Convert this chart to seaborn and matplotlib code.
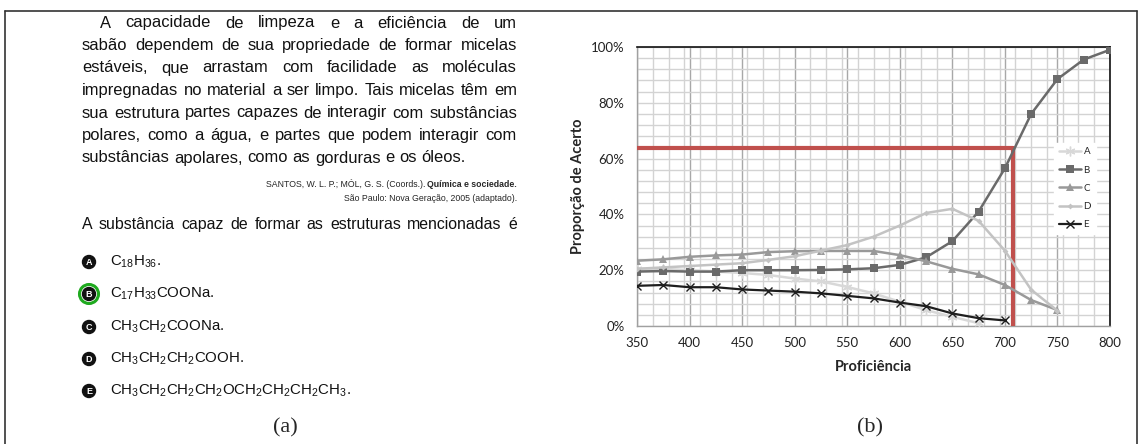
import numpy as np
import pandas as pd
import matplotlib
matplotlib.use("Agg")
import matplotlib.pyplot as plt
import seaborn as sns
from matplotlib.ticker import FixedLocator, MultipleLocator, PercentFormatter
from matplotlib.lines import Line2D
from matplotlib.patches import Circle
from matplotlib.transforms import IdentityTransform

# ---- data (proficiency vs. % of correct answers) ----
prof_A = [350, 375, 400, 425, 450, 475, 500, 525, 550, 575, 600, 625, 650, 675]
acerto_A = [20.5, 20.5, 20, 19.5, 19, 18.3, 17, 16, 14, 11.7, 8.7, 5.7, 3.3, 1]

prof_B = [350, 375, 400, 425, 450, 475, 500, 525, 550, 575, 600, 625, 650, 675,
          700, 725, 750, 775, 800]
acerto_B = [19.5, 19.7, 19.5, 19.5, 20, 20, 20, 20.1, 20.3, 20.7, 21.9, 24.6, 30.4,
            41, 56.5, 76, 88.5, 95.5, 99]

prof_C = [350, 375, 400, 425, 450, 475, 500, 525, 550, 575, 600, 625, 650, 675,
          700, 725, 750]
acerto_C = [23.4, 23.9, 24.8, 25.3, 25.6, 26.5, 26.8, 26.9, 26.9, 26.9, 25.4, 23.2,
            20.5, 18.5, 14.7, 9.3, 5.7]

prof_D = [350, 375, 400, 425, 450, 475, 500, 525, 550, 575, 600, 625, 650, 675,
          700, 725, 750]
acerto_D = [20.5, 21, 21.5, 22, 22.5, 23.7, 25, 27, 29, 32, 36, 40.5, 42, 37.7,
            27, 13, 5.5]

prof_E = [350, 375, 400, 425, 450, 475, 500, 525, 550, 575, 600, 625, 650, 675, 700]
acerto_E = [14.4, 14.7, 13.9, 13.9, 13.1, 12.7, 12.3, 11.7, 10.8, 9.9, 8.4, 7.1,
            4.5, 2.8, 2.0]

# reference lines drawn in red
ref_prof = 708
ref_prop = 63.7

x_ticks = [350, 400, 450, 500, 550, 600, 650, 700, 750, 800]
y_ticks = [0, 20, 40, 60, 80, 100]

# ---- question text ----
paragraph = [
    "A capacidade de limpeza e a eficiência de um",
    "sabão dependem de sua propriedade de formar micelas",
    "estáveis, que arrastam com facilidade as moléculas",
    "impregnadas no material a ser limpo. Tais micelas têm em",
    "sua estrutura partes capazes de interagir com substâncias",
    "polares, como a água, e partes que podem interagir com",
    "substâncias apolares, como as gorduras e os óleos.",
]
citation_plain = ["SANTOS, W. L. P.; MÓL, G. S. (Coords.). ",
                  "São Paulo: Nova Geração, 2005 (adaptado)."]
citation_bold = "Química e sociedade."
question = "A substância capaz de formar as estruturas mencionadas é"
option_letters = ["A", "B", "C", "D", "E"]
option_texts = [
    r"C$_{18}$H$_{36}$.",
    r"C$_{17}$H$_{33}$COONa.",
    r"CH$_{3}$CH$_{2}$COONa.",
    r"CH$_{3}$CH$_{2}$CH$_{2}$COOH.",
    r"CH$_{3}$CH$_{2}$CH$_{2}$CH$_{2}$OCH$_{2}$CH$_{2}$CH$_{2}$CH$_{3}$.",
]
correct_option = "B"

sns.set_style("white")
plt.rcParams["font.family"] = ["Liberation Sans", "DejaVu Sans"]
plt.rcParams["mathtext.fontset"] = "custom"
plt.rcParams["mathtext.rm"] = "Liberation Sans"
plt.rcParams["mathtext.it"] = "Liberation Sans:italic"
plt.rcParams["mathtext.bf"] = "Liberation Sans:bold"

W, H = 1142, 444
fig = plt.figure(figsize=(W / 100, H / 100), dpi=100)
renderer = fig.canvas.get_renderer()


def fpos(x, y):
    return x / W, 1 - y / H


# ---- panel (b): the chart ----
ax = fig.add_axes([637 / W, 1 - 326 / H, (1110 - 637) / W, (326 - 47) / H])

rows = []
for name, xs, ys in [("A", prof_A, acerto_A), ("B", prof_B, acerto_B),
                     ("C", prof_C, acerto_C), ("D", prof_D, acerto_D),
                     ("E", prof_E, acerto_E)]:
    for xv, yv in zip(xs, ys):
        rows.append({"Proficiência": xv, "Proporção": yv, "Alternativa": name})
df = pd.DataFrame(rows)

styles = {
    "A": dict(color="#d8d8d8", marker=(6, 2, 0), markersize=7, lw=1.8, mew=1.0),
    "B": dict(color="#6a6a6a", marker="s", markersize=5.5, lw=1.8, mew=0),
    "C": dict(color="#999999", marker="^", markersize=6, lw=1.8, mew=0),
    "D": dict(color="#c3c3c3", marker="D", markersize=3, lw=1.8, mew=0),
    "E": dict(color="#1e1e1e", marker="x", markersize=6, lw=1.6, mew=1.0),
}

ax.plot([350, ref_prof], [ref_prop, ref_prop], color="#c0504d", lw=3, zorder=3)
ax.plot([ref_prof, ref_prof], [ref_prop, 0], color="#c0504d", lw=3, zorder=3)

for name in ["A", "B", "C", "D", "E"]:
    sub = df[df["Alternativa"] == name]
    st = styles[name]
    sns.lineplot(data=sub, x="Proficiência", y="Proporção", ax=ax, label=name,
                 color=st["color"], marker=st["marker"], markersize=st["markersize"],
                 lw=st["lw"], markeredgewidth=st["mew"], markeredgecolor=st["color"],
                 zorder=4)

ax.set_xlim(350, 800)
ax.set_ylim(0, 100)
ax.set_xticks(x_ticks)
ax.set_yticks(y_ticks)
ax.xaxis.set_minor_locator(FixedLocator(np.arange(350, 801, 15)))
ax.yaxis.set_minor_locator(MultipleLocator(4))
ax.yaxis.set_major_formatter(PercentFormatter(xmax=100, decimals=0))
ax.grid(which="minor", color="#d3d3d3", lw=1)
ax.grid(which="major", axis="y", color="#d3d3d3", lw=1)
ax.grid(which="major", axis="x", color="#a8a8a8", lw=1)
ax.set_axisbelow(True)

for s in ["top", "right"]:
    ax.spines[s].set_color("#111111")
    ax.spines[s].set_linewidth(1.2)
for s in ["left", "bottom"]:
    ax.spines[s].set_color("#a0a0a0")
    ax.spines[s].set_linewidth(1.0)

tick_font = "Lato"
ax.tick_params(axis="x", which="major", length=4, color="#a0a0a0", pad=4,
               labelsize=9.5, labelcolor="#222222")
ax.tick_params(axis="x", which="minor", length=0)
ax.tick_params(axis="y", which="both", length=0, pad=9, labelsize=9.5,
               labelcolor="#222222")
for lab in ax.get_xticklabels() + ax.get_yticklabels():
    lab.set_fontfamily(tick_font)

ax.set_xlabel("Proficiência", fontsize=10.5, fontweight="bold", fontfamily=tick_font)
ax.set_ylabel("Proporção de Acerto", fontsize=10.5, fontweight="bold",
              fontfamily=tick_font)
ax.xaxis.label.set_va("center")
ax.yaxis.label.set_va("center")
ax.xaxis.set_label_coords(0.5, (326 - 367) / 279)
ax.yaxis.set_label_coords((578 - 637) / 473, 0.5)

leg = ax.legend(loc="upper left", bbox_to_anchor=(0.872, 0.675), frameon=True,
                handlelength=2.2, handletextpad=0.3, labelspacing=0.95,
                borderpad=0.5, prop={"family": tick_font, "size": 7})
leg.get_frame().set_facecolor("white")
leg.get_frame().set_edgecolor("white")
leg.get_frame().set_alpha(1)

# ---- panel (a): the question text ----
x_left, x_right = 82, 517

# pick the paragraph size so the widest line fits the column with normal spaces
probe = fig.text(0, 0, paragraph[4], fontsize=10)
probe_w = probe.get_window_extent(renderer).width
probe.remove()
para_size = 10 * (x_right - x_left) / probe_w * 0.985


def justify(line, x0, x1, yb, size, last=False):
    words = line.split()
    arts = [fig.text(0, 0, w, fontsize=size, va="baseline", ha="left",
                     color="#111111") for w in words]
    widths = [a.get_window_extent(renderer).width for a in arts]
    if last or len(words) < 2:
        gap = 0.28 * size * 100 / 72
    else:
        gap = (x1 - x0 - sum(widths)) / (len(words) - 1)
    x = x0
    for a, w in zip(arts, widths):
        a.set_position(fpos(x, yb))
        x += w + gap


para_base = 27.5
para_step = 22.5
for i, line in enumerate(paragraph):
    x0 = 100 if i == 0 else x_left
    justify(line, x0, x_right, para_base + i * para_step, para_size,
            last=(i == len(paragraph) - 1))

# citation (right aligned, bold title)
cit_size = 6.3
tb = fig.text(*fpos(x_right, 187), citation_bold, fontsize=cit_size,
              fontweight="bold", ha="right", va="baseline")
bw = tb.get_window_extent(renderer).width
fig.text(*fpos(x_right - bw, 187), citation_plain[0], fontsize=cit_size,
         ha="right", va="baseline")
fig.text(*fpos(x_right, 201), citation_plain[1], fontsize=cit_size,
         ha="right", va="baseline")

justify(question, x_left, x_right, 229, para_size * 0.96)

opt_y = [262, 294, 327, 359, 391]
for letter, txt, yc in zip(option_letters, option_texts, opt_y):
    fig.add_artist(Circle((89, H - yc), radius=6.5, transform=IdentityTransform(),
                          fc="#111111", ec="#111111"))
    fig.text(*fpos(89, yc + 0.5), letter, fontsize=6.5, fontweight="bold",
             color="white", ha="center", va="center")
    if letter == correct_option:
        fig.add_artist(Circle((89, H - yc), radius=9.5,
                              transform=IdentityTransform(), fill=False,
                              ec="#1faa1f", lw=2.2))
    fig.text(*fpos(110, yc), txt, fontsize=10.8, ha="left", va="center",
             color="#111111")

# panel captions
fig.text(*fpos(285, 428), "(a)", fontsize=16, ha="center", va="center",
         fontfamily="Liberation Serif")
fig.text(*fpos(870, 428), "(b)", fontsize=16, ha="center", va="center",
         fontfamily="Liberation Serif")

# outer frame
for xs, ys in [([5, 5], [444, 11]), ([5, 1137], [11, 11]), ([1137, 1137], [11, 444])]:
    fig.add_artist(Line2D(xs, [H - y for y in ys], transform=IdentityTransform(),
                          color="#333333", lw=1.2))

fig.savefig("out.png", dpi=100)
